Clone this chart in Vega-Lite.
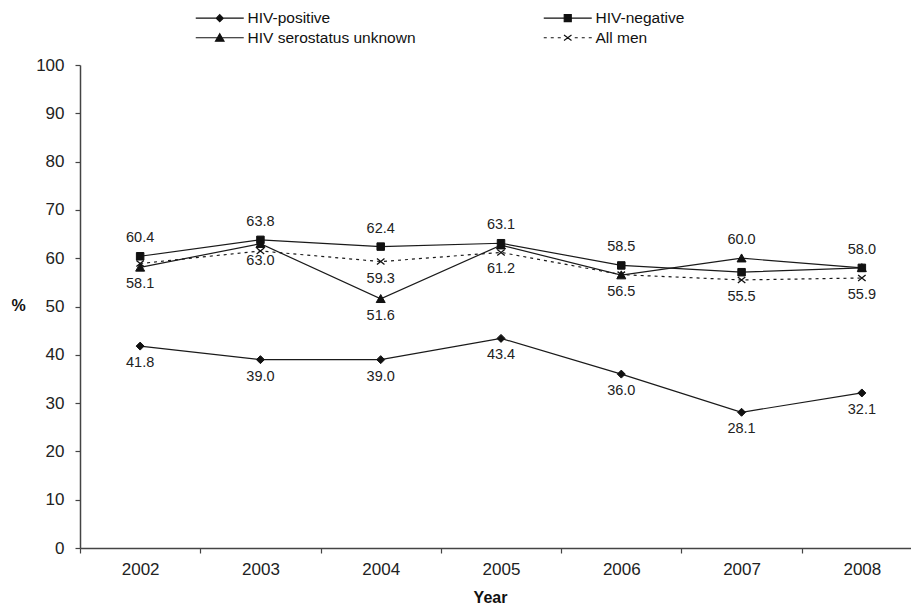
{
  "$schema": "https://vega.github.io/schema/vega-lite/v6.json",
  "autosize": "none",
  "width": 842,
  "height": 483,
  "padding": {"left": 80, "top": 65, "right": 0, "bottom": 57},
  "background": "white",
  "config": {
    "font": "Liberation Sans",
    "view": {"stroke": null},
    "axis": {"grid": false, "domainColor": "#444", "domainWidth": 1.5, "tickColor": "#444", "tickWidth": 1.2, "tickSize": 5, "labelFontSize": 17, "labelColor": "#222", "titleFontSize": 16, "titleFontWeight": "bold", "titleColor": "#111"}
  },
  "datasets": {
    "series": [
      {"Year": "2002", "series": "HIV-positive", "value": 41.8},
      {"Year": "2003", "series": "HIV-positive", "value": 39.0},
      {"Year": "2004", "series": "HIV-positive", "value": 39.0},
      {"Year": "2005", "series": "HIV-positive", "value": 43.4},
      {"Year": "2006", "series": "HIV-positive", "value": 36.0},
      {"Year": "2007", "series": "HIV-positive", "value": 28.1},
      {"Year": "2008", "series": "HIV-positive", "value": 32.1},
      {"Year": "2002", "series": "HIV-negative", "value": 60.4},
      {"Year": "2003", "series": "HIV-negative", "value": 63.8},
      {"Year": "2004", "series": "HIV-negative", "value": 62.4},
      {"Year": "2005", "series": "HIV-negative", "value": 63.1},
      {"Year": "2006", "series": "HIV-negative", "value": 58.5},
      {"Year": "2007", "series": "HIV-negative", "value": 57.1},
      {"Year": "2008", "series": "HIV-negative", "value": 58.0},
      {"Year": "2002", "series": "HIV serostatus unknown", "value": 58.1},
      {"Year": "2003", "series": "HIV serostatus unknown", "value": 63.0},
      {"Year": "2004", "series": "HIV serostatus unknown", "value": 51.6},
      {"Year": "2005", "series": "HIV serostatus unknown", "value": 62.7},
      {"Year": "2006", "series": "HIV serostatus unknown", "value": 56.5},
      {"Year": "2007", "series": "HIV serostatus unknown", "value": 60.0},
      {"Year": "2008", "series": "HIV serostatus unknown", "value": 58.0},
      {"Year": "2002", "series": "All men", "value": 58.9},
      {"Year": "2003", "series": "All men", "value": 61.5},
      {"Year": "2004", "series": "All men", "value": 59.3},
      {"Year": "2005", "series": "All men", "value": 61.2},
      {"Year": "2006", "series": "All men", "value": 56.6},
      {"Year": "2007", "series": "All men", "value": 55.5},
      {"Year": "2008", "series": "All men", "value": 55.9}
    ],
    "labels": [
      {"Year": "2002", "value": 60.4, "label": "60.4", "pos": "above"},
      {"Year": "2003", "value": 63.8, "label": "63.8", "pos": "above"},
      {"Year": "2004", "value": 62.4, "label": "62.4", "pos": "above"},
      {"Year": "2005", "value": 63.1, "label": "63.1", "pos": "above"},
      {"Year": "2006", "value": 58.5, "label": "58.5", "pos": "above"},
      {"Year": "2007", "value": 60.0, "label": "60.0", "pos": "above"},
      {"Year": "2008", "value": 58.0, "label": "58.0", "pos": "above"},
      {"Year": "2002", "value": 58.1, "label": "58.1", "pos": "below"},
      {"Year": "2003", "value": 63.0, "label": "63.0", "pos": "below"},
      {"Year": "2004", "value": 59.3, "label": "59.3", "pos": "below"},
      {"Year": "2004", "value": 51.6, "label": "51.6", "pos": "below"},
      {"Year": "2005", "value": 61.2, "label": "61.2", "pos": "below"},
      {"Year": "2006", "value": 56.5, "label": "56.5", "pos": "below"},
      {"Year": "2007", "value": 55.5, "label": "55.5", "pos": "below"},
      {"Year": "2008", "value": 55.9, "label": "55.9", "pos": "below"},
      {"Year": "2002", "value": 41.8, "label": "41.8", "pos": "below"},
      {"Year": "2003", "value": 39.0, "label": "39.0", "pos": "below"},
      {"Year": "2004", "value": 39.0, "label": "39.0", "pos": "below"},
      {"Year": "2005", "value": 43.4, "label": "43.4", "pos": "below"},
      {"Year": "2006", "value": 36.0, "label": "36.0", "pos": "below"},
      {"Year": "2007", "value": 28.1, "label": "28.1", "pos": "below"},
      {"Year": "2008", "value": 32.1, "label": "32.1", "pos": "below"}
    ]
  },
  "encoding": {
    "x": {
      "field": "Year", "type": "ordinal",
      "scale": {"domain": ["2002", "2003", "2004", "2005", "2006", "2007", "2008"], "paddingInner": 0, "paddingOuter": 0},
      "axis": {"labelAngle": 0, "tickBand": "extent", "labelPadding": 8, "title": "Year", "titleX": 410, "titleY": 49, "titleBaseline": "middle", "titleAlign": "center"}
    },
    "y": {
      "field": "value", "type": "quantitative",
      "scale": {"domain": [0, 100], "nice": false, "zero": true},
      "axis": {"values": [0, 10, 20, 30, 40, 50, 60, 70, 80, 90, 100], "labelPadding": 11, "title": "%", "titleAngle": 0, "titleX": -62, "titleY": 240, "titleAlign": "center", "titleBaseline": "middle"}
    }
  },
  "layer": [
    {
      "data": {"name": "series"},
      "transform": [{"filter": "datum.series !== 'All men'"}],
      "mark": {"type": "line", "color": "#1a1a1a", "strokeWidth": 1.2},
      "encoding": {"detail": {"field": "series"}}
    },
    {
      "data": {"name": "series"},
      "transform": [{"filter": "datum.series === 'All men'"}],
      "mark": {"type": "line", "color": "#1a1a1a", "strokeWidth": 1.2, "strokeDash": [3, 4]},
      "encoding": {}
    },
    {
      "data": {"name": "series"},
      "transform": [{"filter": "datum.series === 'HIV-positive'"}],
      "mark": {"type": "point", "filled": true, "fill": "#111", "stroke": "#111", "strokeWidth": 1, "size": 100, "opacity": 1, "shape": "M0,-0.8L0.8,0L0,0.8L-0.8,0Z"},
      "encoding": {}
    },
    {
      "data": {"name": "series"},
      "transform": [{"filter": "datum.series === 'HIV-negative'"}],
      "mark": {"type": "point", "filled": true, "fill": "#111", "stroke": "#111", "strokeWidth": 1, "size": 100, "opacity": 1, "shape": "M-0.75,-0.75H0.75V0.75H-0.75Z"},
      "encoding": {}
    },
    {
      "data": {"name": "series"},
      "transform": [{"filter": "datum.series === 'HIV serostatus unknown'"}],
      "mark": {"type": "point", "filled": true, "fill": "#111", "stroke": "#111", "strokeWidth": 1, "size": 100, "opacity": 1, "shape": "M0,-0.85L0.9,0.75H-0.9Z"},
      "encoding": {}
    },
    {
      "data": {"name": "series"},
      "transform": [{"filter": "datum.series === 'All men'"}],
      "mark": {"type": "point", "filled": false, "stroke": "#111", "strokeWidth": 1.3, "size": 100, "opacity": 1, "shape": "M-0.75,-0.6L0.75,0.6M-0.75,0.6L0.75,-0.6"},
      "encoding": {}
    },
    {
      "data": {"name": "series"},
      "transform": [{"filter": "datum.value > 1000"}],
      "mark": {"type": "point", "filled": true, "fill": "#111", "stroke": "#111", "strokeWidth": 1.2, "size": 100, "opacity": 1},
      "encoding": {
        "shape": {
          "field": "series", "type": "nominal",
          "scale": {"domain": ["HIV-positive", "HIV-negative", "HIV serostatus unknown", "All men"],
            "range": ["M-4.8,0H4.8M0,-0.7L0.7,0L0,0.7L-0.7,0Z", "M-4.8,0H4.8M-0.7,-0.7H0.7V0.7H-0.7Z", "M-4.8,0H4.8M0,-0.8L0.85,0.7H-0.85Z", "M-4.8,0H-4.2M-3.4,0H-2.8M-2,0H-1.4M1.4,0H2M2.8,0H3.4M4.2,0H4.8M-0.75,-0.55L0.75,0.55M-0.75,0.55L0.75,-0.55"]},
          "legend": {
            "orient": "none", "legendX": 132, "legendY": -55, "columns": 2, "title": null,
            "direction": "horizontal",
            "labelFontSize": 15.5, "labelColor": "#111", "labelOffset": 20, "labelLimit": 400,
            "symbolSize": 100, "symbolStrokeWidth": 1.2, "columnPadding": 125, "rowPadding": 3
          }
        }
      }
    },
    {
      "data": {"name": "labels"},
      "transform": [{"filter": "datum.pos === 'above'"}],
      "mark": {"type": "text", "dy": -18, "fontSize": 14.5, "color": "#222", "baseline": "middle"},
      "encoding": {"text": {"field": "label"}}
    },
    {
      "data": {"name": "labels"},
      "transform": [{"filter": "datum.pos === 'below'"}],
      "mark": {"type": "text", "dy": 17, "fontSize": 14.5, "color": "#222", "baseline": "middle"},
      "encoding": {"text": {"field": "label"}}
    }
  ]
}
